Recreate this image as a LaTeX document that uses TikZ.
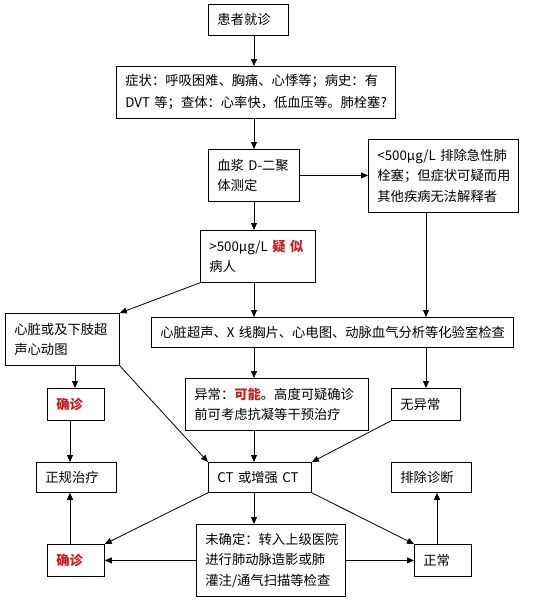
\documentclass[tikz,border=0pt]{standalone}
\usepackage{fontspec}
\setmainfont{Noto Sans CJK SC}
\usetikzlibrary{arrows.meta}
\definecolor{redtxt}{RGB}{200,30,30}
\newcommand{\hl}[1]{\textcolor{redtxt}{\bfseries #1}}
\begin{document}
\begin{tikzpicture}[x=1pt,y=-1pt,
  box/.style={draw, line width=0.8pt, inner xsep=9pt, inner ysep=0pt, align=left,
    anchor=north west, font=\fontsize{13.3}{20.5}\selectfont},
  arr/.style={-{Triangle[length=7pt,width=6pt]}, line width=0.8pt}]
\useasboundingbox (0,0) rectangle (547,603);
\fill[white] (0,0) rectangle (547,603);
% column coordinates for connectors
\coordinate (xa) at (254,0);
\coordinate (xb) at (426,0);
\coordinate (xc) at (70,0);
\coordinate (xe) at (75,0);
\coordinate (xd) at (437,0);

\node[box, text width=62pt, minimum height=31pt] (b1) at (208,4) {患者就诊};
\node[box, text width=261pt, minimum height=52pt, font=\fontsize{13.3}{22}\selectfont] (b2) at (116,66) {\mbox{症状：呼吸困难、胸痛、心悸等；病史：有}\\\mbox{DVT~等；查体：心率快，低血压等。肺栓塞?}};
\node[box, text width=73pt, minimum height=52pt] (b3) at (208,149) {\mbox{血浆~D-二聚}\\体测定};
\node[box, text width=132pt, minimum height=73pt] (b4) at (368,139) {\mbox{<500μg/L~排除急性肺}\\栓塞；但症状可疑而用\\其他疾病无法解释者};
\node[box, text width=97pt, minimum height=52pt] (b5) at (200,230) {\mbox{>500μg/L~\hl{疑~似}}\\病人};
\node[box, text width=96pt, minimum height=52pt] (b6) at (5,313) {心脏或及下肢超\\声心动图};
\node[box, text width=344pt, minimum height=30pt] (b7) at (151,317) {\mbox{心脏超声、X~线胸片、心电图、动脉血气分析等化验室检查}};
\node[box, text width=39pt, minimum height=32pt] (b8) at (47,388) {\hl{确诊}};
\node[box, text width=165pt, minimum height=52pt] (b9) at (185,378) {异常：\hl{可能}。高度可疑确诊\\前可考虑抗凝等干预治疗};
\node[box, text width=51pt, minimum height=32pt] (b10) at (391,388) {无异常};
\node[box, text width=62pt, minimum height=30pt] (b11) at (36,462) {正规治疗};
\node[box, text width=85pt, minimum height=30pt] (b12) at (208,462) {\mbox{CT~或增强~CT}};
\node[box, text width=62pt, minimum height=30pt] (b13) at (391,462) {排除诊断};
\node[box, text width=39pt, minimum height=32pt] (b14) at (47,544) {\hl{确诊}};
\node[box, text width=131pt, minimum height=72pt] (b15) at (196,524) {未确定：转入上级医院\\进行肺动脉造影或肺\\灌注/通气扫描等检查};
\node[box, text width=39pt, minimum height=32pt] (b16) at (414,544) {正常};

\draw[arr] (b1.south -| xa) -- (b2.north -| xa);
\draw[arr] (b2.south -| xa) -- (b3.north -| xa);
\draw[arr] (b3.east) -- (b3.east -| b4.west);
\draw[arr] (b3.south -| xa) -- (b5.north -| xa);
\draw[arr] (b5.south west) -- (b6.north east);
\draw[arr] (b5.south -| xa) -- (b7.north -| xa);
\draw[arr] (b4.south -| xb) -- (b7.north -| xb);
\draw[arr] (b6.south -| xe) -- (b8.north -| xe);
\draw[arr] (b7.south -| xa) -- (b9.north -| xa);
\draw[arr] (b7.south -| xb) -- (b10.north -| xb);
\draw[arr] (b8.south -| xc) -- (b11.north -| xc);
\draw[arr] (b6.south east) -- (b12.north west);
\draw[arr] (b9.south -| xa) -- (b12.north -| xa);
\draw[arr] (b10.south west) -- (b12.north east);
\draw[arr] (b12.south -| xa) -- (b15.north -| xa);
\draw[arr] (b12.south west) -- (b14.north east);
\draw[arr] (b12.south east) -- (b16.north west);
\draw[arr] (b15.west) -- (b14.east);
\draw[arr] (b15.east) -- (b16.west);
\draw[arr] (b14.north -| xc) -- (b11.south -| xc);
\draw[arr] (b16.north -| xd) -- (b13.south -| xd);
\end{tikzpicture}
\end{document}
